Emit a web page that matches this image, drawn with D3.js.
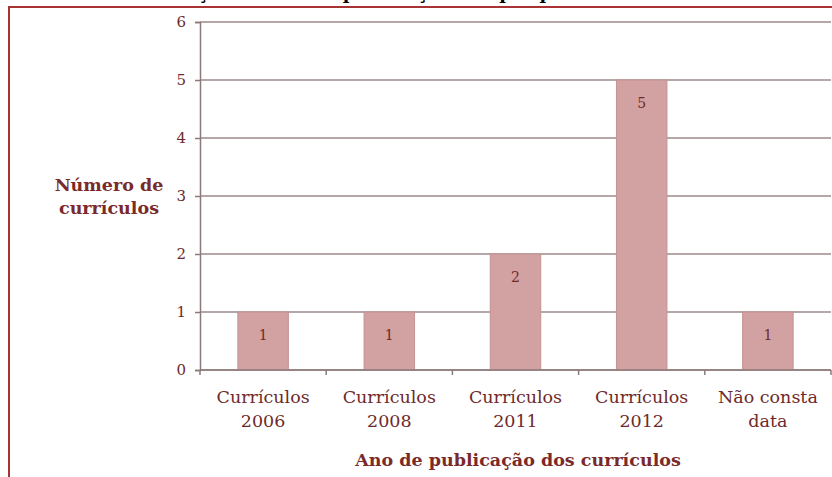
<!DOCTYPE html>
<html>
<head>
<meta charset="utf-8">
<script src="https://cdn.jsdelivr.net/npm/d3@7"></script>
<style>
  body { margin: 0; background: #fff; }
  svg { display: block; }
  svg text { font-family: "DejaVu Serif", "Liberation Serif", serif; }
</style>
</head>
<body>
<div id="chart"></div>
<script>
// data
const categories = ['Currículos 2006', 'Currículos 2008', 'Currículos 2011', 'Currículos 2012', 'Não consta data'];
const categoryLines = [['Currículos', '2006'], ['Currículos', '2008'], ['Currículos', '2011'], ['Currículos', '2012'], ['Não consta', 'data']];
const counts = [1, 1, 2, 5, 1];
const yTicks = [0, 1, 2, 3, 4, 5, 6];

const width = 832, height = 477;
const margin = {left: 200, right: 1, top: 22, bottom: 107};
const barColor = '#d2a1a1';
const textColor = '#6e2a2a';

const svg = d3.select('#chart').append('svg')
  .attr('width', width)
  .attr('height', height);

// frame: only top and left edges show, the rest is cropped away
svg.append('path')
  .attr('d', `M9,${height} L9,7 L${width},7`)
  .attr('fill', 'none')
  .attr('stroke', '#a83333')
  .attr('stroke-width', 2);

// title is cut off in the original, only descenders peek through
svg.append('text')
  .attr('x', 108)
  .attr('y', -1)
  .attr('font-size', 18)
  .attr('font-weight', 'bold')
  .attr('fill', '#000')
  .text('Distribuição do ano de publicação dos pesquisados');

const plotW = width - margin.left - margin.right;
const plotH = height - margin.top - margin.bottom;

let x = d3.scaleBand()
  .domain(categories)
  .range([0, plotW])
  .paddingInner(0.6)
  .paddingOuter(0.3);

let y = d3.scaleLinear()
  .domain([0, 6])
  .range([plotH, 0]);

const g = svg.append('g')
  .attr('transform', `translate(${margin.left},${margin.top})`);

// gridlines
g.selectAll('.grid')
  .data(yTicks)
  .enter().append('line')
  .attr('x1', 0)
  .attr('x2', plotW)
  .attr('y1', d => y(d))
  .attr('y2', d => y(d))
  .attr('stroke', '#9c8a8a')
  .attr('stroke-width', 1.5);

// bars
g.selectAll('.bar')
  .data(counts)
  .enter().append('rect')
  .attr('x', (d, i) => x(categories[i]))
  .attr('width', x.bandwidth())
  .attr('y', d => y(d))
  .attr('height', d => y(0) - y(d))
  .attr('fill', barColor)
  .attr('stroke', '#c49292')
  .attr('stroke-width', 1);

g.selectAll('.bar-label')
  .data(counts)
  .enter().append('text')
  .attr('x', (d, i) => x(categories[i]) + x.bandwidth() / 2)
  .attr('y', d => y(d) + 28)
  .attr('text-anchor', 'middle')
  .attr('font-size', 14)
  .attr('fill', textColor)
  .text(d => d);

// y axis
const axisLeft = d3.axisLeft(y).tickValues(yTicks).tickFormat(d3.format('d')).tickSize(5).tickPadding(9);
const yAxis = g.append('g').call(axisLeft);
yAxis.attr('font-family', null);
yAxis.select('.domain').attr('stroke', '#8c7a7a').attr('stroke-width', 1.5);
yAxis.selectAll('.tick line').attr('stroke', '#8c7a7a').attr('stroke-width', 1.5);
yAxis.selectAll('.tick text')
  .attr('font-size', 15)
  .attr('fill', textColor);

// x axis: ticks at band edges
const xAxis = g.append('g').attr('transform', `translate(0,${plotH})`);
xAxis.append('line')
  .attr('x1', 0).attr('x2', plotW)
  .attr('y1', 0).attr('y2', 0)
  .attr('stroke', '#8c7a7a')
  .attr('stroke-width', 1.5);
const edges = categories.map(c => x(c) - x.step() * x.paddingInner() / 2).concat([plotW]);
edges[0] = 0;
xAxis.selectAll('.xtick')
  .data(edges)
  .enter().append('line')
  .attr('x1', d => d).attr('x2', d => d)
  .attr('y1', 0).attr('y2', 5)
  .attr('stroke', '#8c7a7a')
  .attr('stroke-width', 1.5);

const xLabel = xAxis.selectAll('.xlabel')
  .data(categoryLines)
  .enter().append('text')
  .attr('x', (d, i) => x(categories[i]) + x.bandwidth() / 2)
  .attr('y', 33)
  .attr('text-anchor', 'middle')
  .attr('font-size', 17.5)
  .attr('fill', textColor);
xLabel.selectAll('tspan')
  .data(d => d)
  .enter().append('tspan')
  .attr('x', function () { return this.parentNode.getAttribute('x'); })
  .attr('dy', (d, i) => i === 0 ? 0 : 24)
  .text(d => d);

// axis titles
svg.append('text')
  .attr('x', 518)
  .attr('y', 466)
  .attr('text-anchor', 'middle')
  .attr('font-size', 17.5)
  .attr('font-weight', 'bold')
  .attr('fill', '#7a2a2a')
  .text('Ano de publicação dos currículos');

const yTitle = svg.append('text')
  .attr('text-anchor', 'middle')
  .attr('font-size', 17.5)
  .attr('font-weight', 'bold')
  .attr('fill', '#7a2a2a');
yTitle.append('tspan').attr('x', 109).attr('y', 191).text('Número de');
yTitle.append('tspan').attr('x', 109).attr('y', 214).text('currículos');
</script>
</body>
</html>
